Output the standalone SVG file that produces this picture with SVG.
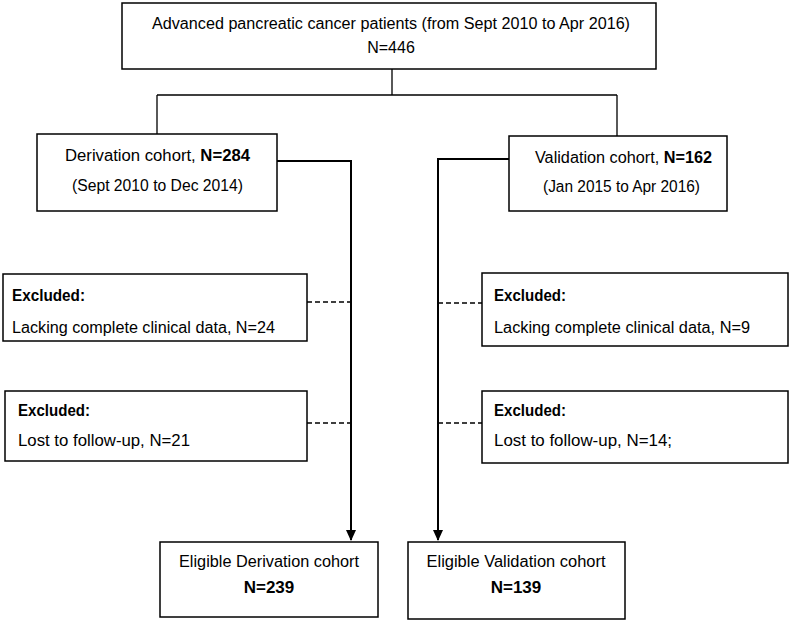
<svg xmlns="http://www.w3.org/2000/svg" width="790" height="622" viewBox="0 0 790 622">
<defs>
<style>
.box{fill:#fff;stroke:#000;stroke-width:1.5}
.t{font-family:"Liberation Sans",Arial,sans-serif;font-size:16px;fill:#000}
.b{font-weight:bold}
.mid{text-anchor:middle}
.ln{fill:none;stroke:#000;stroke-width:1.3}
.ar{fill:none;stroke:#000;stroke-width:2}
.dash{fill:none;stroke:#000;stroke-width:1.3;stroke-dasharray:5,3}
</style>
<marker id="ah" markerWidth="12" markerHeight="10" refX="10" refY="5" orient="auto" markerUnits="userSpaceOnUse">
<path d="M0,0 L11,5 L0,10 Z" fill="#000"/>
</marker>
</defs>
<g id="connectors">
<path class="ln" d="M392,69 V95 M157,95 H617 M157,95 V134 M617,95 V136"/>
<path class="ar" d="M277,161 H351 V540" marker-end="url(#ah)"/>
<path class="ar" d="M509,159 H438 V540" marker-end="url(#ah)"/>
<path class="dash" d="M307,302 H351 M438,303 H482 M307,423 H351 M438,423 H482"/>
</g>
<g id="n-all">
<rect class="box" x="122" y="3" width="534" height="66"/>
<text class="t mid" x="391" y="29" textLength="478" lengthAdjust="spacingAndGlyphs">Advanced pancreatic cancer patients (from Sept 2010 to Apr 2016)</text>
<text class="t mid" x="391" y="53">N=446</text>
</g>
<g id="n-deriv">
<rect class="box" x="37" y="134" width="240" height="77"/>
<text class="t" x="65" y="161" textLength="185" lengthAdjust="spacingAndGlyphs">Derivation cohort, <tspan class="b">N=284</tspan></text>
<text class="t" x="72" y="191" textLength="171" lengthAdjust="spacingAndGlyphs">(Sept 2010 to Dec 2014)</text>
</g>
<g id="n-valid">
<rect class="box" x="509" y="136" width="218" height="75"/>
<text class="t" x="535" y="163" textLength="177" lengthAdjust="spacingAndGlyphs">Validation cohort, <tspan class="b">N=162</tspan></text>
<text class="t" x="543" y="192" textLength="157" lengthAdjust="spacingAndGlyphs">(Jan 2015 to Apr 2016)</text>
</g>
<g id="n-exc1-left">
<rect class="box" x="3" y="274" width="304" height="67"/>
<text class="t b" x="12" y="301" textLength="73" lengthAdjust="spacingAndGlyphs">Excluded:</text>
<text class="t" x="12" y="333" textLength="263" lengthAdjust="spacingAndGlyphs">Lacking complete clinical data, N=24</text>
</g>
<g id="n-exc1-right">
<rect class="box" x="482" y="273" width="306" height="73"/>
<text class="t b" x="494" y="301" textLength="72" lengthAdjust="spacingAndGlyphs">Excluded:</text>
<text class="t" x="494" y="333" textLength="256" lengthAdjust="spacingAndGlyphs">Lacking complete clinical data, N=9</text>
</g>
<g id="n-exc2-left">
<rect class="box" x="5" y="391" width="302" height="70"/>
<text class="t b" x="18" y="416" textLength="72" lengthAdjust="spacingAndGlyphs">Excluded:</text>
<text class="t" x="18" y="446" textLength="172" lengthAdjust="spacingAndGlyphs">Lost to follow-up, N=21</text>
</g>
<g id="n-exc2-right">
<rect class="box" x="482" y="391" width="306" height="72"/>
<text class="t b" x="494" y="416" textLength="72" lengthAdjust="spacingAndGlyphs">Excluded:</text>
<text class="t" x="494" y="446" textLength="178" lengthAdjust="spacingAndGlyphs">Lost to follow-up, N=14;</text>
</g>
<g id="n-elig-deriv">
<rect class="box" x="160" y="542" width="218" height="75"/>
<text class="t mid" x="269" y="567" textLength="180" lengthAdjust="spacingAndGlyphs">Eligible Derivation cohort</text>
<text class="t mid b" x="269" y="593" style="font-size:17px">N=239</text>
</g>
<g id="n-elig-valid">
<rect class="box" x="408" y="542" width="217" height="77"/>
<text class="t mid" x="516" y="567" textLength="179" lengthAdjust="spacingAndGlyphs">Eligible Validation cohort</text>
<text class="t mid b" x="516" y="593" style="font-size:17px">N=139</text>
</g>
</svg>
